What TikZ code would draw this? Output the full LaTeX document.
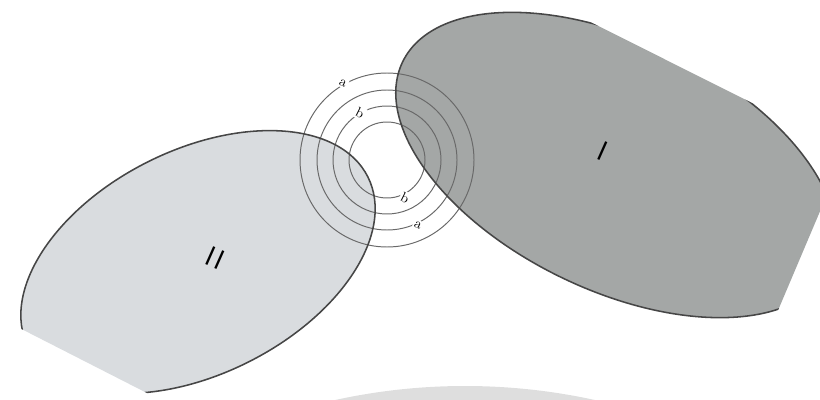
\documentclass[tikz,border=0pt]{standalone}
\begin{document}
\begin{tikzpicture}[x={(0.025cm,0cm)},y={(0cm,-0.025cm)},every node/.style={inner sep=1pt, outer sep=0pt}]
\useasboundingbox (0,0) rectangle (820,400);
\fill[fill={rgb,255:red,222;green,222;blue,222}] (465,989) circle [radius=603];
\coordinate (src) at (387,160);
\begin{scope}
\clip (846,150) -- (637,643) -- (-700,-39) -- (-700,-624) -- cycle;
\fill[fill={rgb,255:red,217;green,220;blue,223}, shift={(198,262)}, rotate=26.6] (0,0) ellipse [x radius=190, y radius=112];
\fill[fill={rgb,255:red,164;green,167;blue,166}, shift={(616,165)}, rotate=-25.8] (0,0) ellipse [x radius=237, y radius=125];
\foreach \r in {38,54,70,87}
  \draw[draw={rgb,255:red,105;green,105;blue,105}, line width=0.7pt] (src) circle [radius=\r];
\draw[draw={rgb,255:red,70;green,70;blue,70}, line width=1.1pt, shift={(198,262)}, rotate=26.6] (0,0) ellipse [x radius=190, y radius=112];
\draw[draw={rgb,255:red,70;green,70;blue,70}, line width=1.1pt, shift={(616,165)}, rotate=-25.8] (0,0) ellipse [x radius=237, y radius=125];
\end{scope}
\node[font=\sffamily\fontsize{20}{20}\selectfont, rotate=-24] (medI) at (603,151) {I};
\node[font=\sffamily\fontsize{20}{20}\selectfont, rotate=-24] (medII) at (215,258) {I\kern2pt I};
\node[fill=white, rotate=-26.6] (aTop) at (343,83) {a};
\node[fill=white, rotate=-26.6] (bTop) at (360,113) {b};
\node[fill=white, rotate=-26.6] (bBot) at (405,198) {b};
\node[fill=white, rotate=-26.6] (aBot) at (418,225) {a};
\end{tikzpicture}
\end{document}
